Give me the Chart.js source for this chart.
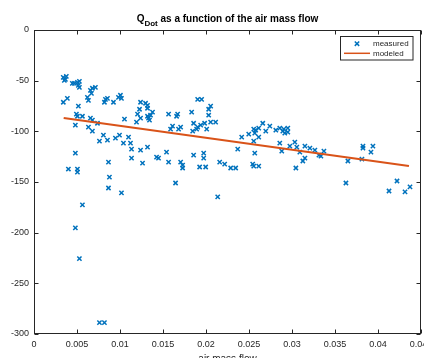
<!DOCTYPE html>
<html>
<head>
<meta charset="utf-8">
<script src="https://cdn.jsdelivr.net/npm/chart.js@4.4.0/dist/chart.umd.min.js"></script>
<style>
  html, body { margin: 0; padding: 0; background: #fff; overflow: hidden; }
  #wrap { width: 424px; height: 358px; overflow: hidden; position: relative; }
  canvas { position: absolute; left: 0; top: 0; }
</style>
</head>
<body>
<div id="wrap"><canvas id="qdotChart" width="440" height="370"></canvas></div>
<script>
// measured points (air mass flow vs Q_Dot)
const airMassFlow = [
  0.0034, 0.00365, 0.00376, 0.00353, 0.00446, 0.0047, 0.00505, 0.00528, 0.00516, 0.00528,
  0.00656, 0.00679, 0.00714, 0.00668, 0.00621, 0.00633, 0.00388, 0.00341, 0.00516, 0.00831,
  0.00854, 0.00819, 0.00924, 0.00982, 0.01017, 0.01005, 0.00493, 0.00505, 0.00563, 0.00481,
  0.00656, 0.00679, 0.00738, 0.00633, 0.00679, 0.00807, 0.00761, 0.00854, 0.00947, 0.00994,
  0.0104, 0.01052, 0.00481, 0.004, 0.00505, 0.00505, 0.00866, 0.00877, 0.00866, 0.01017,
  0.00563, 0.00481, 0.00528, 0.00761, 0.00819,
  0.01099, 0.01122, 0.01134, 0.01134, 0.01239, 0.0132, 0.01262, 0.01425, 0.01448, 0.01541,
  0.01565, 0.01705, 0.01728, 0.01728, 0.01856, 0.01973, 0.01973, 0.01926, 0.01996, 0.01646,
  0.02136, 0.02159, 0.02217, 0.02287, 0.02345,
  0.01239, 0.01297, 0.0132, 0.0132, 0.01227, 0.01204, 0.01239, 0.01192, 0.01378, 0.01355,
  0.0132, 0.01332, 0.01343, 0.01565, 0.0167, 0.01658, 0.01833, 0.01903, 0.01949, 0.02054,
  0.02031, 0.02031, 0.01611, 0.01588, 0.01705, 0.01681, 0.01856, 0.01903, 0.01938, 0.01984,
  0.02054, 0.02112, 0.01891, 0.02008, 0.01845,
  0.02369, 0.02415, 0.02497, 0.02555, 0.02578, 0.02613, 0.02567, 0.02613, 0.02555, 0.02567,
  0.02543, 0.02555, 0.02613, 0.0266, 0.02742, 0.02695, 0.02812, 0.02858, 0.02905, 0.02951,
  0.02916, 0.02951, 0.02893, 0.02858, 0.02881, 0.02975, 0.03033, 0.03056, 0.03045, 0.03091,
  0.0315, 0.0315, 0.03126, 0.03208, 0.03266, 0.03313, 0.03336, 0.03371, 0.03825, 0.03825,
  0.03941, 0.03918, 0.03813, 0.0365, 0.03627, 0.04128, 0.04221, 0.04314, 0.04372
];
const qDotMeasured = [
  -46.7, -48.7, -45.7, -49.7, -52.6, -52.6, -51.6, -50.7, -54.6, -56.6,
  -59.5, -57.5, -56.6, -62.5, -66.4, -69.4, -67.4, -71.3, -75.2, -68.4,
  -67.4, -71.3, -71.3, -66.4, -67.4, -64.4, -83.1, -85.1, -85.1, -93.9,
  -87.0, -89.0, -92.0, -95.9, -99.8, -103.8, -109.7, -108.7, -106.7, -103.8,
  -111.6, -88.0, -121.5, -137.2, -137.2, -140.2, -130.3, -145.1, -155.9, -160.8,
  -172.6, -195.2, -225.7, -288.7, -288.7,
  -105.7, -111.6, -117.5, -126.4, -118.5, -115.6, -131.3, -125.4, -126.4, -120.5,
  -130.3, -130.3, -133.3, -136.2, -123.4, -121.5, -126.4, -135.2, -135.2, -151.0,
  -164.7, -130.3, -132.3, -136.2, -136.2,
  -71.3, -72.3, -74.3, -77.2, -78.2, -83.1, -87.0, -91.0, -81.1, -84.1,
  -85.1, -87.0, -89.0, -83.1, -83.1, -85.1, -81.1, -68.4, -68.4, -75.2,
  -78.2, -84.1, -94.9, -97.9, -95.9, -97.9, -92.0, -95.9, -93.9, -92.0,
  -91.0, -91.0, -97.9, -97.9, -99.8,
  -117.5, -105.7, -102.8, -97.9, -98.9, -96.9, -101.8, -105.7, -109.7, -121.5,
  -132.3, -134.3, -134.3, -92.0, -94.9, -99.8, -98.9, -96.9, -97.9, -96.9,
  -101.8, -100.8, -99.8, -111.6, -119.5, -114.6, -110.7, -115.6, -136.2, -120.5,
  -114.6, -126.4, -129.3, -116.6, -118.5, -123.4, -124.4, -119.5, -114.6, -116.6,
  -114.6, -120.5, -127.4, -129.3, -151.0, -158.9, -149.0, -159.8, -154.9
];

// linear model, start and end of the fitted line
const modelFlow = [0.00345, 0.0436];
const qDotModeled = [-86.8, -134.3];

const xTickValues = [0, 0.005, 0.01, 0.015, 0.02, 0.025, 0.03, 0.035, 0.04, 0.045];
const yTickValues = [-300, -250, -200, -150, -100, -50, 0];

const seriesNames = ['measured', 'modeled'];
const xAxisTitle = 'air mass flow';
const titleMain = 'Q';
const titleSub = 'Dot';
const titleRest = ' as a function of the air mass flow';

const blue = '#0072BD';
const orange = '#D95319';
const axisColor = '#262626';
const fontFamily = "'Liberation Sans', Arial, Helvetica, sans-serif";

Chart.defaults.font.family = fontFamily;

// matlab style box, inward ticks, title with subscript and legend
const matlabLook = {
    id: 'matlabLook',
    afterDraw(chart) {
        const ctx = chart.ctx;
        const area = chart.chartArea;
        const xs = chart.scales.x;
        const ys = chart.scales.y;
        const L = Math.round(area.left) + 0.5;
        const R = Math.round(area.right) - 0.5;
        const T = Math.round(area.top) + 0.5;
        const B = Math.round(area.bottom) - 0.5;
        ctx.save();
        ctx.strokeStyle = axisColor;
        ctx.lineWidth = 1;
        ctx.strokeRect(L, T, R - L, B - T);

        // inward ticks
        const tl = 4;
        ctx.beginPath();
        xTickValues.forEach(v => {
            const px = Math.round(xs.getPixelForValue(v)) + 0.5;
            ctx.moveTo(px, B); ctx.lineTo(px, B - tl);
            ctx.moveTo(px, T); ctx.lineTo(px, T + tl);
        });
        yTickValues.forEach(v => {
            const py = Math.round(ys.getPixelForValue(v)) + 0.5;
            ctx.moveTo(L, py); ctx.lineTo(L + tl, py);
            ctx.moveTo(R, py); ctx.lineTo(R - tl, py);
        });
        ctx.stroke();

        // title
        const cx = (area.left + area.right) / 2;
        ctx.fillStyle = '#000';
        ctx.textBaseline = 'alphabetic';
        ctx.textAlign = 'left';
        ctx.font = 'bold 10px ' + fontFamily;
        const wMain = ctx.measureText(titleMain).width;
        const wRest = ctx.measureText(titleRest).width;
        ctx.font = 'bold 8px ' + fontFamily;
        const wSub = ctx.measureText(titleSub).width;
        let tx = cx - (wMain + wSub + wRest) / 2;
        ctx.font = 'bold 10px ' + fontFamily;
        ctx.fillText(titleMain, tx, 22);
        tx += wMain;
        ctx.font = 'bold 8px ' + fontFamily;
        ctx.fillText(titleSub, tx, 26);
        tx += wSub;
        ctx.font = 'bold 10px ' + fontFamily;
        ctx.fillText(titleRest, tx, 22);

        // legend box
        const lx = 340.5, ly = 36.5, lw = 72.5, lh = 23.5;
        ctx.fillStyle = '#fff';
        ctx.fillRect(lx, ly, lw, lh);
        ctx.strokeStyle = axisColor;
        ctx.lineWidth = 1;
        ctx.strokeRect(lx, ly, lw, lh);

        const row1 = 43.7, row2 = 53.3;
        ctx.strokeStyle = blue;
        ctx.lineWidth = 1.5;
        ctx.beginPath();
        ctx.moveTo(357 - 2.2, row1 - 2.2); ctx.lineTo(357 + 2.2, row1 + 2.2);
        ctx.moveTo(357 - 2.2, row1 + 2.2); ctx.lineTo(357 + 2.2, row1 - 2.2);
        ctx.stroke();
        ctx.strokeStyle = orange;
        ctx.lineWidth = 1.5;
        ctx.beginPath();
        ctx.moveTo(344, row2); ctx.lineTo(370, row2);
        ctx.stroke();

        ctx.fillStyle = axisColor;
        ctx.font = '8px ' + fontFamily;
        ctx.textBaseline = 'middle';
        ctx.fillText(seriesNames[0], 373, row1);
        ctx.fillText(seriesNames[1], 373, row2);
        ctx.restore();
    }
};

const ctx = document.getElementById('qdotChart').getContext('2d');
new Chart(ctx, {
    type: 'scatter',
    data: {
        datasets: [
            {
                label: seriesNames[1],
                data: modelFlow.map((x, i) => ({ x: x, y: qDotModeled[i] })),
                showLine: true,
                borderColor: orange,
                borderWidth: 2,
                pointRadius: 0,
                order: 0
            },
            {
                label: seriesNames[0],
                data: airMassFlow.map((x, i) => ({ x: x, y: qDotMeasured[i] })),
                pointStyle: 'crossRot',
                pointRadius: 3,
                borderColor: blue,
                backgroundColor: blue,
                pointBorderWidth: 1.5,
                order: 1
            }
        ]
    },
    options: {
        responsive: false,
        devicePixelRatio: 1,
        animation: false,
        layout: { padding: { top: 30, right: 19, left: 0, bottom: 0 } },
        plugins: {
            legend: { display: false },
            title: { display: false },
            tooltip: { enabled: false }
        },
        scales: {
            x: {
                type: 'linear',
                min: 0,
                max: 0.045,
                afterBuildTicks: s => { s.ticks = xTickValues.map(v => ({ value: v })); },
                afterFit: s => { s.height = 36; },
                grid: { display: false, drawTicks: false },
                border: { display: false },
                ticks: {
                    padding: 5,
                    color: axisColor,
                    font: { size: 9 },
                    maxRotation: 0,
                    autoSkip: false,
                    callback: v => String(v)
                },
                title: {
                    display: true,
                    text: xAxisTitle,
                    color: axisColor,
                    font: { size: 10 },
                    padding: { top: 0, bottom: 5 }
                }
            },
            y: {
                type: 'linear',
                min: -300,
                max: 0,
                afterBuildTicks: s => { s.ticks = yTickValues.map(v => ({ value: v })); },
                afterFit: s => { s.width = 34; },
                grid: { display: false, drawTicks: false },
                border: { display: false },
                ticks: {
                    padding: 5,
                    color: axisColor,
                    font: { size: 9 },
                    callback: v => String(v)
                }
            }
        }
    },
    plugins: [matlabLook]
});
</script>
</body>
</html>
